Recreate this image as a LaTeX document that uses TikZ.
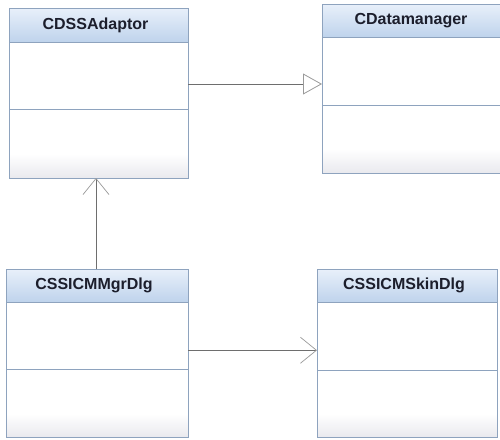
\documentclass[tikz,border=0pt]{standalone}
\usepackage{fontspec}
\setmainfont{Liberation Sans}
\usetikzlibrary{arrows.meta,calc}
\definecolor{headtop}{HTML}{E8F0FA}
\definecolor{headbot}{HTML}{BFD3EC}
\definecolor{bordercol}{HTML}{8EA3BE}
\definecolor{bodybot}{HTML}{E9E9EE}
\definecolor{txtcol}{HTML}{1C1E2C}
\definecolor{linecol}{HTML}{6E6E6E}
\definecolor{tipcol}{HTML}{9A9A9A}
\tikzset{
  classbox/.style={rectangle,draw=none,inner sep=0pt,outer sep=0pt},
  border/.style={draw=bordercol,line width=0.9pt},
  title/.style={text=txtcol,font=\bfseries\fontsize{16}{19}\selectfont,inner sep=0pt},
  gen/.style={draw=linecol,line width=0.8pt,-{Triangle[open,length=19pt,width=21pt,line width=0.8pt,color=tipcol,fill=white]}},
  dep/.style={draw=linecol,line width=0.8pt,-{Straight Barb[length=16pt,width=26pt,line width=0.7pt,color=tipcol]}}
}
% #1 name, #2 x1, #3 y1, #4 x2, #5 y2, #6 header bottom, #7 divider, #8 label
\newcommand\umlclassbox[8]{%
  \fill[white] (#2,#3) rectangle (#4,#5);
  \shade[top color=white,bottom color=bodybot] (#2,#5-24) rectangle (#4,#5);
  \shade[top color=headtop,bottom color=headbot] (#2,#3) rectangle (#4,#6);
  \draw[border] (#2,#6) -- (#4,#6);
  \draw[border] (#2,#7) -- (#4,#7);
  \draw[border] (#2,#3) rectangle (#4,#5);
  \node[classbox,minimum width={(#4-#2)*1pt},minimum height={(#5-#3)*1pt}] (#1) at ({(#2+#4)/2},{(#3+#5)/2}) {};
  \node[title] (#1-title) at ({(#2+#4)/2-3},{(#3+#6)/2}) {#8};
}
\begin{document}
\begin{tikzpicture}[x=1pt,y=-1pt]
\useasboundingbox[fill=white] (0,0) rectangle (500,439);
\umlclassbox{cdss}{9}{8}{188}{178}{42}{109}{CDSSAdaptor}
\umlclassbox{cdm}{322}{4}{506}{173}{37}{105}{CDatamanager}
\umlclassbox{mgr}{6}{269}{188}{437.5}{302}{369}{CSSICMMgrDlg}
\umlclassbox{skin}{317}{269}{497}{437.5}{302}{370}{CSSICMSkinDlg}
\draw[gen] ([yshift=9pt]cdss.east) -- ([yshift=9pt]cdss.east -| cdm.west);
\draw[dep] ([xshift=-1pt]mgr.north) -- ([xshift=-1pt]mgr.north |- cdss.south);
\draw[dep] ([yshift=3pt]mgr.east) -- ([yshift=3pt]mgr.east -| skin.west);
\end{tikzpicture}
\end{document}
